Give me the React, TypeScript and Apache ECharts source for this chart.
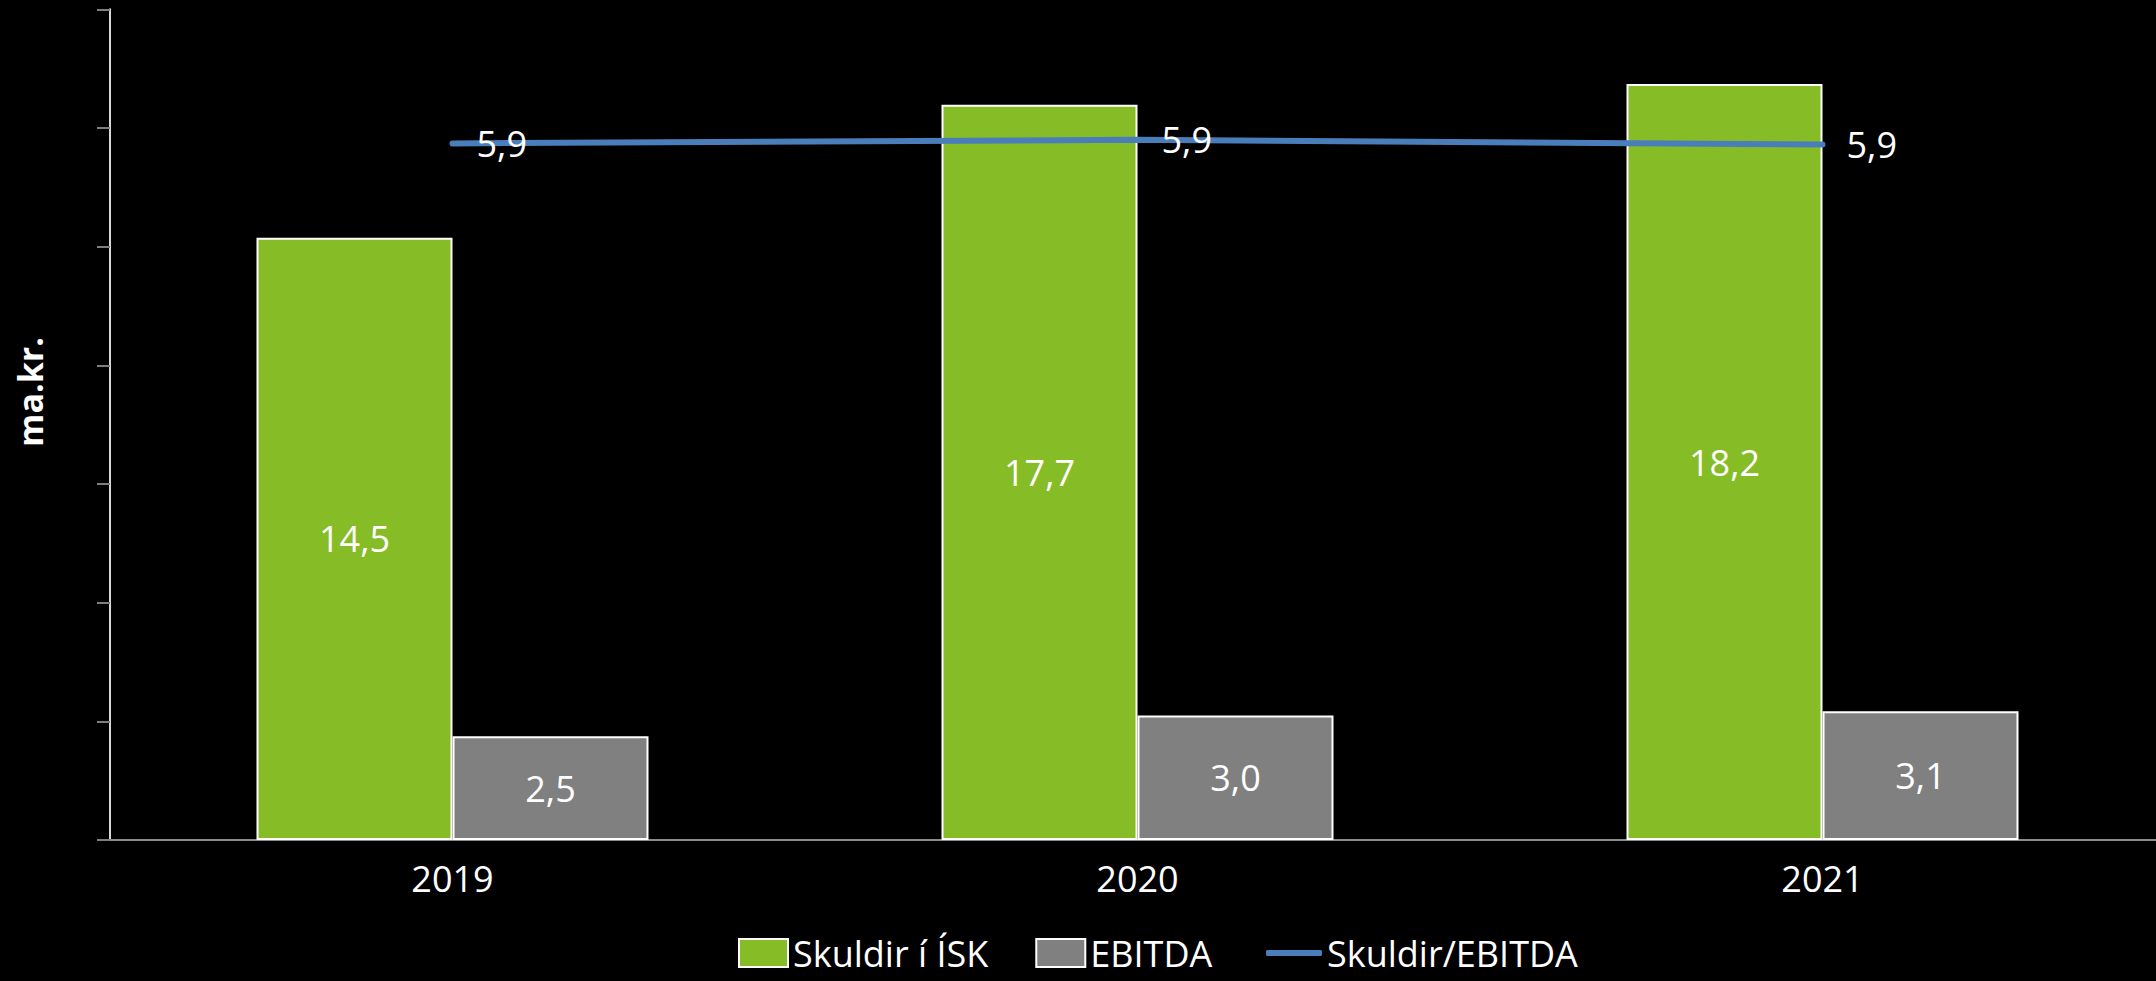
import React, { useEffect, useRef } from "react";
import * as echarts from "echarts";

const categories = ["2019", "2020", "2021"];
const debtValues = [14.5, 17.7, 18.2];
const ebitdaValues = [2.5, 3.0, 3.1];
const ratioValues = [5.87, 5.9, 5.86];
const seriesNames = ["Skuldir í ÍSK", "EBITDA", "Skuldir/EBITDA"];
const yAxisTitle = "ma.kr.";

const FONT = "'Open Sans', 'Noto Sans', sans-serif";
const fmt = (v: number) => v.toFixed(1).replace(".", ",");

export default function App() {
  const ref = useRef<HTMLDivElement>(null);
  useEffect(() => {
    if (!ref.current) return;
    const chart = echarts.init(ref.current, undefined, { renderer: "svg" });
    chart.setOption({
      animation: false,
      backgroundColor: "#000000",
      textStyle: { fontFamily: FONT },
      grid: {
        left: 110,
        top: 9.3,
        width: 2055,
        height: 830.7,
        containLabel: false,
        outerBoundsMode: "none",
      },
      legend: [
        {
          data: [
            { name: seriesNames[0], icon: "rect" },
            { name: seriesNames[1], icon: "rect" },
          ],
          left: 738,
          top: 935,
          padding: 0,
          itemWidth: 49,
          itemHeight: 28,
          itemGap: 47,
          textStyle: { color: "#ffffff", fontSize: 36, lineHeight: 36, fontFamily: FONT },
        },
        {
          data: [{ name: seriesNames[2], icon: "roundRect" }],
          left: 1266,
          top: 935,
          padding: 0,
          itemWidth: 56,
          itemHeight: 6,
          textStyle: { color: "#ffffff", fontSize: 36, lineHeight: 36, fontFamily: FONT },
        },
      ],
      xAxis: {
        type: "category",
        data: categories,
        axisLine: { show: true, lineStyle: { color: "#8c8c8c", width: 2 } },
        axisTick: { show: false },
        axisLabel: { color: "#ffffff", fontSize: 36, fontFamily: FONT, margin: 20 },
      },
      yAxis: [
        {
          type: "value",
          min: 0,
          max: 20,
          axisLine: { show: false },
          axisTick: { show: false },
          axisLabel: { show: false },
          splitLine: { show: false },
        },
        {
          type: "value",
          position: "left",
          min: 0,
          max: 7,
          interval: 1,
          axisLine: { show: true, lineStyle: { color: "#d9d9d9", width: 2 } },
          axisTick: { show: true, length: 13, lineStyle: { color: "#7f7f7f", width: 2 } },
          axisLabel: { show: false },
          splitLine: { show: false },
        },
      ],
      graphic: [
        {
          type: "text",
          x: 30,
          y: 392,
          rotation: Math.PI / 2,
          style: {
            text: yAxisTitle,
            fill: "#ffffff",
            fontSize: 34,
            fontWeight: "bold",
            fontFamily: FONT,
            textAlign: "center",
            textVerticalAlign: "middle",
          },
        },
      ],
      series: [
        {
          name: seriesNames[0],
          type: "bar",
          data: debtValues,
          barWidth: 196,
          barGap: "0%",
          itemStyle: { color: "#86BC25", borderColor: "#ffffff", borderWidth: 2 },
          label: {
            show: true,
            position: "inside",
            color: "#ffffff",
            fontSize: 36,
            fontFamily: FONT,
            formatter: (p: any) => fmt(p.value),
          },
        },
        {
          name: seriesNames[1],
          type: "bar",
          data: ebitdaValues,
          barWidth: 196,
          barGap: "0%",
          itemStyle: { color: "#808080", borderColor: "#ffffff", borderWidth: 2 },
          label: {
            show: true,
            position: "inside",
            color: "#ffffff",
            fontSize: 36,
            fontFamily: FONT,
            formatter: (p: any) => fmt(p.value),
          },
        },
        {
          name: seriesNames[2],
          type: "line",
          yAxisIndex: 1,
          data: ratioValues,
          symbol: "none",
          z: 5,
          lineStyle: { color: "#4A7EBB", width: 6, cap: "round" },
          itemStyle: { color: "#4A7EBB" },
        },
        {
          name: "ratioLabels",
          type: "scatter",
          yAxisIndex: 1,
          data: ratioValues,
          symbolSize: 0,
          z: 6,
          silent: true,
          itemStyle: { color: "#4A7EBB", opacity: 0 },
          label: {
            show: true,
            position: "right",
            distance: 24,
            color: "#ffffff",
            opacity: 1,
            textBorderWidth: 0,
            fontSize: 36,
            fontFamily: FONT,
            formatter: (p: any) => fmt(p.value),
          },
        },
      ],
    });
    return () => chart.dispose();
  }, []);
  return (
    <div
      ref={ref}
      style={{ position: "fixed", left: 0, top: 0, width: 2156, height: 981, background: "#000" }}
    />
  );
}
